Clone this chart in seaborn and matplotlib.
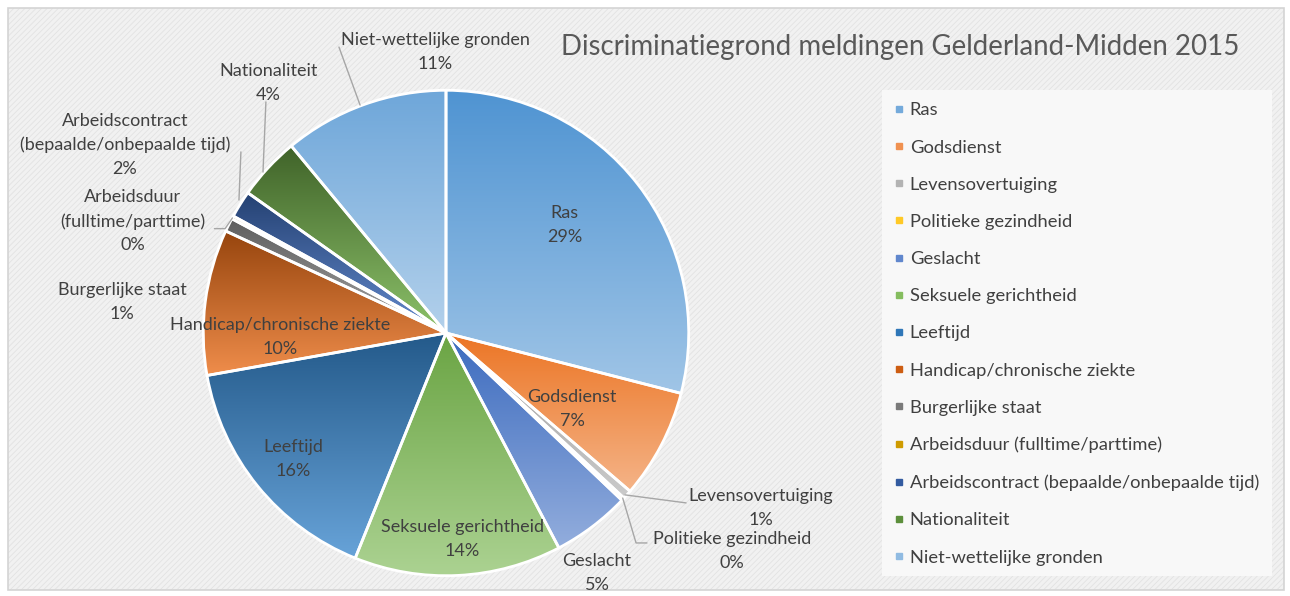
import colorsys

import matplotlib
matplotlib.use("Agg")
import matplotlib.pyplot as plt
from matplotlib.colors import to_rgb
from matplotlib.lines import Line2D
from matplotlib.patches import Rectangle
import numpy as np
import seaborn as sns

# --- data -------------------------------------------------------------
categories = [
    "Ras", "Godsdienst", "Levensovertuiging", "Politieke gezindheid",
    "Geslacht", "Seksuele gerichtheid", "Leeftijd",
    "Handicap/chronische ziekte", "Burgerlijke staat",
    "Arbeidsduur (fulltime/parttime)",
    "Arbeidscontract (bepaalde/onbepaalde tijd)",
    "Nationaliteit", "Niet-wettelijke gronden",
]
shares = [29.0, 7.3, 0.6, 0.2, 5.2, 13.8, 16.1, 9.7, 0.9, 0.2, 1.8, 4.2, 11.0]
# how the data labels are broken over lines in the chart
label_texts = [
    "Ras", "Godsdienst", "Levensovertuiging", "Politieke gezindheid",
    "Geslacht", "Seksuele gerichtheid", "Leeftijd",
    "Handicap/chronische ziekte", "Burgerlijke staat",
    "Arbeidsduur\n(fulltime/parttime)",
    "Arbeidscontract\n(bepaalde/onbepaalde tijd)",
    "Nationaliteit", "Niet-wettelijke gronden",
]
base_colors = [
    "#5B9BD5", "#ED7D31", "#A5A5A5", "#FFC000", "#4472C4", "#70AD47",
    "#255E91", "#9E480E", "#636363", "#997300", "#264478", "#43682B",
    "#7CAFDD",
]

# --- layout (data coords, pie radius = 1) -----------------------------
label_pos = [
    (0.49, 0.445), (0.52, -0.313), (1.298, -0.721), (1.178, -0.898),
    (0.622, -0.989), (0.066, -0.849), (-0.630, -0.519), (-0.684, -0.016),
    (-1.335, 0.128), (-1.290, 0.461), (-1.323, 0.775), (-0.733, 1.030),
    (-0.045, 1.158),
]
leaders = {
    2: [(0.738, -0.667), (0.989, -0.700)],
    3: [(0.728, -0.680), (0.783, -0.865), (0.828, -0.865)],
    9: [(-0.954, 0.430), (-0.910, 0.430), (-0.880, 0.474)],
    10: [(-0.845, 0.746), (-0.853, 0.548)],
    11: [(-0.742, 0.952), (-0.754, 0.663)],
    12: [(-0.441, 1.178), (-0.354, 0.939)],
}

W, H = 1290, 596
CX, CY, R = 446, 333, 242.7
TEXT = "#404040"

sns.set_theme(style="white")
plt.rcParams["font.family"] = ["Lato", "DejaVu Sans"]
plt.rcParams["hatch.linewidth"] = 0.6


def shade(color, amount):
    # Excel-like luminance change: negative darkens, positive lightens
    h, l, s = colorsys.rgb_to_hls(*to_rgb(color))
    l = l * (1 + amount) if amount < 0 else l + (1 - l) * amount
    return colorsys.hls_to_rgb(h, l, s)


fig = plt.figure(figsize=(W / 100, H / 100), dpi=100)
fig.patch.set_facecolor("white")

# hatched chart background and border
fig.add_artist(Rectangle((8 / W, 6 / H), 1276 / W, 582 / H, transform=fig.transFigure,
                         facecolor="#F1F1F1", edgecolor="#E2E2E2", hatch="//////",
                         linewidth=0, zorder=-3))
fig.add_artist(Rectangle((8 / W, 6 / H), 1276 / W, 582 / H, transform=fig.transFigure,
                         facecolor="none", edgecolor="#D4D4D4", linewidth=1.2, zorder=-2))
# legend panel
fig.add_artist(Rectangle((882 / W, 1 - 576 / H), 390 / W, 486 / H, transform=fig.transFigure,
                         facecolor="#F8F8F8", edgecolor="none", zorder=-1))

ax = fig.add_axes([(CX - 250) / W, (H - CY - 250) / H, 500 / W, 500 / H])
ax.patch.set_alpha(0)

wedges, _ = ax.pie(shares, colors=base_colors, startangle=90, counterclock=False,
                   wedgeprops=dict(edgecolor="white", linewidth=2.0))

grad = np.linspace(0, 1, 256)
for w, c in zip(wedges, base_colors):
    top = np.array(shade(c, -0.05))
    bot = np.array(shade(c, 0.42))
    img = (top[None, :] * (1 - grad[:, None]) + bot[None, :] * grad[:, None])[:, None, :]
    ext = w.get_path().get_extents()
    im = ax.imshow(img, extent=(ext.x0, ext.x1, ext.y0, ext.y1), origin="upper",
                   aspect="auto", zorder=1, interpolation="bilinear")
    im.set_clip_path(w)
    w.set_facecolor("none")
    w.set_zorder(2)

for i, (txt, val, (x, y)) in enumerate(zip(label_texts, shares, label_pos)):
    ax.text(x, y, f"{txt}\n{round(val):.0f}%", ha="center", va="center",
            fontsize=13, color=TEXT, linespacing=1.6, zorder=4, clip_on=False)

for pts in leaders.values():
    xs, ys = zip(*pts)
    ax.plot(xs, ys, color="#A6A6A6", linewidth=1.0, zorder=3, clip_on=False)

ax.set_xlim(-1.03, 1.03)
ax.set_ylim(-1.03, 1.03)
ax.set_aspect("equal")
ax.axis("off")

fig.text(900 / W, 1 - 47 / H, "Discriminatiegrond meldingen Gelderland-Midden 2015",
         ha="center", va="center", fontsize=19.9, color="#595959")

handles = [Line2D([], [], marker="s", linestyle="none", markersize=5,
                  color=shade(c, 0.15)) for c in base_colors]
fig.legend(handles, categories, loc="upper left", bbox_to_anchor=(886 / W, 1 - 95 / H),
           frameon=False, fontsize=13.2, labelcolor=TEXT, handlelength=0.6,
           handletextpad=0.3, labelspacing=1.155, borderaxespad=0)

fig.savefig("out.png", dpi=100)
